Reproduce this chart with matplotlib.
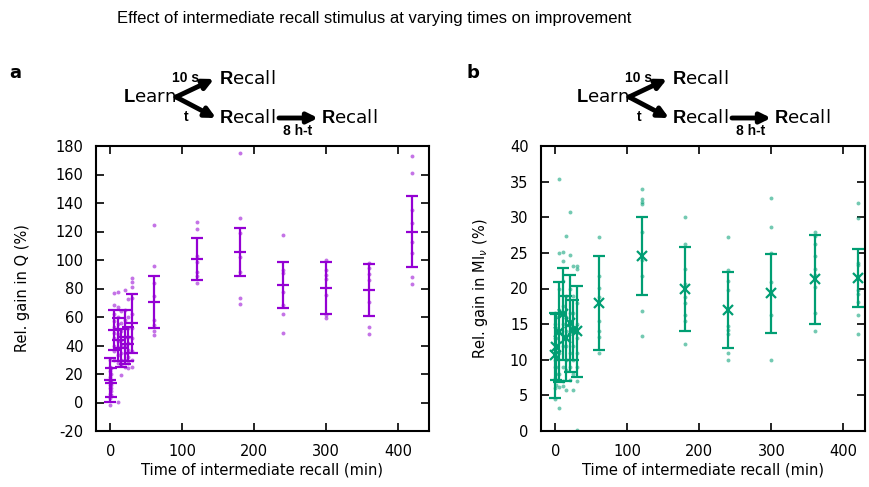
import matplotlib
matplotlib.use("Agg")
import matplotlib.pyplot as plt

plt.rcParams['font.family'] = ['DejaVu Sans']
plt.rcParams['axes.unicode_minus'] = False
plt.rcParams['mathtext.fontset'] = 'custom'
plt.rcParams['mathtext.rm'] = 'Liberation Sans'
plt.rcParams['mathtext.bf'] = 'Liberation Sans:bold'

# ---- data ----
times = [0, 1, 5, 10, 15, 20, 25, 30, 60, 120, 180, 240, 300, 360, 420]

q_mean = [15.8, 13.9, 50.9, 43.9, 38.0, 46.0, 41.0, 55.5, 70.3, 100.9, 105.6, 82.5, 80.6, 78.9, 119.9]
q_sd = [15.4, 10.0, 13.8, 15.1, 13.4, 18.9, 12.0, 20.6, 18.2, 14.8, 17.0, 16.0, 18.2, 18.3, 24.9]
q_points = [
    [30, 25, 22, 18, 15, 12, 10, 6, 3, -2],
    [24, 20, 16, 14, 12, 10, 8, 5],
    [76.6, 68.2, 62, 57, 53, 49, 45, 40, 36, 30],
    [77.8, 67.2, 60, 55, 48, 43, 38, 33, 28, 0.6],
    [64.2, 56, 50, 44, 40, 35, 30, 26, 19.3],
    [79, 65, 58, 52, 46, 40, 35, 30, 25],
    [72.6, 60, 52, 46, 42, 37, 32, 28, 24],
    [87.6, 84.3, 81.3, 73, 62, 52, 45, 36, 30, 25],
    [124.8, 96, 84.1, 75, 57.9, 54.4, 50.2, 47.4],
    [126.4, 121.5, 102.8, 98.8, 91.8, 88.8, 83.6],
    [175.3, 129.3, 118.7, 102.3, 91.8, 73.1, 69.1],
    [117.5, 92.9, 90.6, 77.3, 68.4, 62.1, 48.6],
    [100, 92.9, 89.5, 86.5, 75.4, 61.4, 59.1],
    [98.1, 94.2, 90, 86, 70.3, 53.2, 48.1],
    [173.2, 160.8, 135.1, 125.8, 112.8, 104.7, 88.3, 83.2],
]

mi_mean = [10.6, 11.8, 13.9, 16.4, 13.0, 15.1, 14.2, 14.0, 18.0, 24.6, 19.9, 17.0, 19.3, 21.3, 21.5]
mi_sd = [5.9, 4.6, 7.0, 6.5, 6.0, 6.8, 4.2, 6.4, 6.6, 5.5, 5.9, 5.35, 5.55, 6.25, 4.05]
mi_points = [
    [16.5, 15, 13, 11, 10, 9, 7.5, 6, 4.5],
    [16, 14.5, 13, 12, 10.5, 9, 8, 6.5],
    [35.4, 25, 20, 17, 14, 11, 8, 6.2, 3.2],
    [25.1, 23.9, 21, 17.5, 15, 12, 9, 7, 6.3],
    [27.3, 19, 16, 14, 12, 10, 8.5, 5.8],
    [30.8, 24.7, 20, 16.5, 14, 11, 9, 7.1],
    [23.2, 19, 16.5, 14, 12, 10, 8, 5.7],
    [23.2, 22.7, 18, 15, 13, 11, 9, 7, 0.2],
    [27.2, 21.7, 20.1, 18.8, 15.5, 14.1, 13.2, 11.0],
    [33.9, 32.5, 32.1, 31.9, 28.0, 24, 21.8, 16.9, 13.3],
    [30.1, 26.2, 22.8, 20.7, 18.8, 18.0, 16.3, 15.5, 12.2],
    [27.2, 22.6, 21.0, 19.8, 14.7, 14.2, 13.6, 11.0, 10.0],
    [32.7, 28.6, 25.0, 20.9, 19.3, 16.3, 10.0],
    [27.9, 27.3, 26.2, 24.6, 22.8, 21.9, 20.2, 16.6, 14.0],
    [32.0, 29.9, 23.6, 23.3, 21.7, 19.8, 19.2, 18.1, 16.3, 13.6],
]

purple = '#9400D3'
green = '#009E73'

W, H = 870, 487
fig = plt.figure(figsize=(W / 100, H / 100), dpi=100)


def px_axes(l, t, r, b):
    return fig.add_axes([l / W, 1 - b / H, (r - l) / W, (b - t) / H])


def style_axes(ax):
    ax.tick_params(direction='in', length=6, width=1.2, top=True, right=True,
                   labelsize=10.5)
    ax.tick_params(axis='y', pad=9)
    ax.tick_params(axis='x', pad=9)
    for s in ax.spines.values():
        s.set_linewidth(1.5)


def panel(ax, points, mean, sd, color, marker, ms):
    for t, pts in zip(times, points):
        ax.scatter([t] * len(pts), pts, s=8, color=color, alpha=0.55,
                   linewidths=0, zorder=2)
    ax.errorbar(times, mean, yerr=sd, fmt='none', ecolor=color, elinewidth=1.6,
                capsize=4.5, capthick=1.6, zorder=3)
    ax.plot(times, mean, linestyle='none', marker=marker, color=color,
            markersize=ms, markeredgewidth=1.6, zorder=4)
    ax.set_xlabel('Time of intermediate recall (min)', fontsize=10.5, labelpad=3)


ax_a = px_axes(96, 146, 429, 431)
panel(ax_a, q_points, q_mean, q_sd, purple, '_', 9)
ax_a.set_xlim(-20, 443)
ax_a.set_ylim(-20, 180)
ax_a.set_yticks(range(-20, 181, 20))
ax_a.set_xticks(range(0, 401, 100))
ax_a.set_ylabel('Rel. gain in Q (%)', fontsize=10.5, labelpad=18)
style_axes(ax_a)

ax_b = px_axes(541, 146, 865, 431)
panel(ax_b, mi_points, mi_mean, mi_sd, green, 'x', 7)
ax_b.set_xlim(-20, 430)
ax_b.set_ylim(0, 40)
ax_b.set_yticks(range(0, 41, 5))
ax_b.set_xticks(range(0, 401, 100))
ax_b.set_ylabel(r'Rel. gain in MI$_\nu$ (%)', fontsize=10.5, labelpad=14,
                math_fontfamily='dejavusans')
style_axes(ax_b)

# overlay in pixel coordinates for title, panel letters and schematic
ov = fig.add_axes([0, 0, 1, 1])
ov.set_xlim(0, W)
ov.set_ylim(H, 0)
ov.axis('off')

ov.text(374, 18, 'Effect of intermediate recall stimulus at varying times on improvement',
        ha='center', va='center', fontsize=12, family='Liberation Sans')
ov.text(15, 73, 'a', ha='center', va='center', fontsize=13, fontweight='bold')
ov.text(473, 73, 'b', ha='center', va='center', fontsize=13, fontweight='bold')


def scheme(dx):
    fs = 13.2
    arr = dict(arrowstyle='-|>', lw=3.5, color='k', mutation_scale=15, shrinkA=0, shrinkB=0)
    ov.text(123 + dx, 97, r'$\mathbf{L}$earn', ha='left', va='center', fontsize=fs)
    ov.annotate('', xy=(214 + dx, 79), xytext=(176 + dx, 97), arrowprops=arr)
    ov.annotate('', xy=(216 + dx, 118), xytext=(176 + dx, 97), arrowprops=arr)
    ov.text(186 + dx, 78, '10 s', ha='center', va='center', fontsize=10,
            fontweight='bold', family='Liberation Sans')
    ov.text(186 + dx, 117, 't', ha='center', va='center', fontsize=10,
            fontweight='bold', family='Liberation Sans')
    ov.text(219 + dx, 79, r'$\mathbf{R}$ecall', ha='left', va='center', fontsize=fs)
    ov.text(219 + dx, 118, r'$\mathbf{R}$ecall', ha='left', va='center', fontsize=fs)
    ov.annotate('', xy=(318 + dx, 118), xytext=(279 + dx, 118), arrowprops=arr)
    ov.text(298 + dx, 131, '8 h-t', ha='center', va='center', fontsize=10,
            fontweight='bold', family='Liberation Sans')
    ov.text(321 + dx, 118, r'$\mathbf{R}$ecall', ha='left', va='center', fontsize=fs)


scheme(0)
scheme(453)

fig.savefig('out.png', dpi=100)
